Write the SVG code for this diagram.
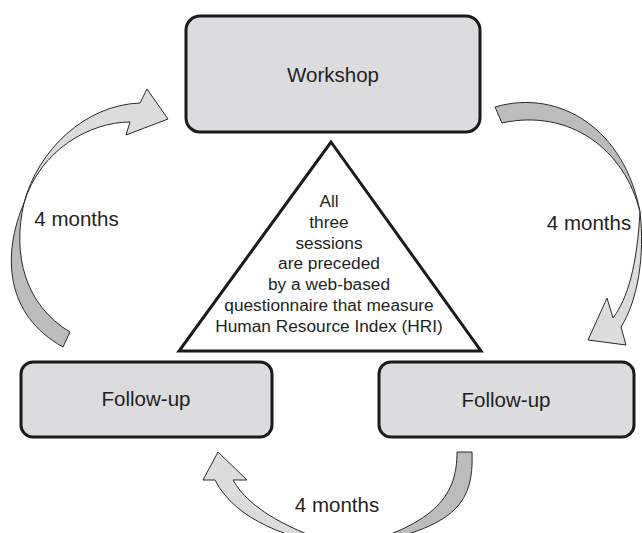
<svg xmlns="http://www.w3.org/2000/svg" width="642" height="533" viewBox="0 0 642 533">
<style>
.box{fill:#dcdcde;stroke:#1a1a1a;stroke-width:3}
.tri{fill:#ffffff;stroke:#1a1a1a;stroke-width:3;stroke-linejoin:miter}
.lbl{font-family:"Liberation Sans",Arial,sans-serif;font-size:20.5px;fill:#231f20;text-anchor:middle}
.tt{font-family:"Liberation Sans",Arial,sans-serif;font-size:17.3px;fill:#231f20;text-anchor:middle}
.dk{fill:#bcbcbc;stroke:#2a2a2a;stroke-width:1;stroke-linejoin:miter}
.lt{fill:#dcdcdc;stroke:#2a2a2a;stroke-width:1;stroke-linejoin:miter}
</style>
<rect width="642" height="533" fill="#ffffff"/>
<g id="connectors">
  <g id="arrow-left">
    <path class="dk" d="M24,203 C2,255 5,315 63,347 L70,332 C25,305 12,255 24,203 Z"/>
    <path class="lt" d="M24,203 C38,150 85,105 140,103 L147,89 L168,119 L126,135 L130,122 C90,122 40,150 24,203 Z"/>
  </g>
  <g id="arrow-right">
    <path class="dk" d="M495,107 C560,88 625,130 640,212 C625,150 570,108 502,123 Z"/>
    <path class="lt" d="M640,212 C645,255 638,300 621,327 L626,345 L588,340 L607,298 L613,318 C628,298 637,265 640,212 Z"/>
  </g>
  <g id="arrow-bottom">
    <path class="dk" d="M457,452 L472,452 C474,505 455,530 345,548 C440,525 457,492 457,452 Z"/>
    <path class="lt" d="M215,480 L203,480 L218,452 L247,480 L233,480 C250,510 290,530 345,548 C290,540 235,520 215,480 Z"/>
  </g>
  <text class="lbl" x="76.5" y="226">4 months</text>
  <text class="lbl" x="589" y="230">4 months</text>
  <text class="lbl" x="337" y="512">4 months</text>
</g>
<g id="workshop">
  <rect class="box" x="186" y="16" width="294" height="116" rx="14"/>
  <text class="lbl" x="333" y="82">Workshop</text>
</g>
<g id="followup-left">
  <rect class="box" x="21" y="362" width="251" height="75" rx="12"/>
  <text class="lbl" x="146" y="406">Follow-up</text>
</g>
<g id="followup-right">
  <rect class="box" x="379" y="362" width="255" height="75" rx="12"/>
  <text class="lbl" x="506" y="407">Follow-up</text>
</g>
<g id="triangle">
  <polygon class="tri" points="331,142 481,351 179,351"/>
  <text class="tt" x="329" y="207">All</text>
  <text class="tt" x="329" y="227.8">three</text>
  <text class="tt" x="329" y="248.6">sessions</text>
  <text class="tt" x="329" y="269.4">are preceded</text>
  <text class="tt" x="329" y="290.2">by a web-based</text>
  <text class="tt" x="329" y="311">questionnaire that measure</text>
  <text class="tt" x="329" y="331.8">Human Resource Index (HRI)</text>
</g>
</svg>
